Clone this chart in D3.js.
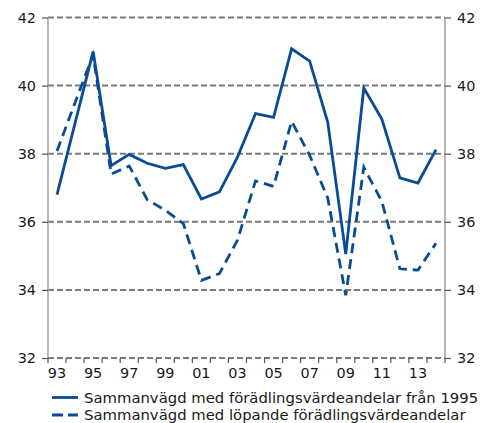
<!DOCTYPE html>
<html>
<head>
<meta charset="utf-8">
<script src="https://cdn.jsdelivr.net/npm/d3@7"></script>
<style>
  body { margin: 0; background: #fff; }
  svg { display: block; }
  text { font-family: "DejaVu Sans", Verdana, sans-serif; fill: #1a1a1a; }
</style>
</head>
<body>
<svg id="chart" width="494" height="423"></svg>
<script>
// data
var years = ["93","94","95","96","97","98","99","00","01","02","03","04","05","06","07","08","09","10","11","12","13","14"];
var fixedWeights = [36.8, 38.9, 41.0, 37.65, 37.98, 37.72, 37.57, 37.68, 36.67, 36.88, 37.9, 39.18, 39.07, 41.08, 40.72, 38.93, 35.05, 39.93, 39.02, 37.29, 37.14, 38.12];
var currentWeights = [38.08, 39.5, 40.9, 37.4, 37.64, 36.65, 36.34, 35.95, 34.28, 34.48, 35.46, 37.2, 37.04, 38.95, 37.95, 36.7, 33.84, 37.6, 36.6, 34.62, 34.58, 35.37];
var yTicks = [32, 34, 36, 38, 40, 42];
var xLabels = ["93","95","97","99","01","03","05","07","09","11","13"];
var legendLabels = ["Sammanvägd med förädlingsvärdeandelar från 1995",
                    "Sammanvägd med löpande förädlingsvärdeandelar"];

var blue = "#0a4b96";
var fontSize = "14.4px";
var svg = d3.select("#chart");

var plotLeft = 48, plotRight = 445, plotTop = 17.5, plotBottom = 358;

var x = d3.scaleBand().domain(years).range([plotLeft, plotRight]);
var y = d3.scaleLinear().domain([32, 42]).range([plotBottom, plotTop]);

// grid
svg.append("g").selectAll("line").data(yTicks).enter().append("line")
    .attr("x1", plotLeft).attr("x2", plotRight)
    .attr("y1", function(d) { return y(d); })
    .attr("y2", function(d) { return y(d); })
    .attr("stroke", "#7a7a7a")
    .attr("stroke-width", 2)
    .attr("stroke-dasharray", "6,3");

// axis lines
svg.append("line").attr("x1", plotLeft).attr("x2", plotLeft).attr("y1", plotTop).attr("y2", plotBottom)
    .attr("stroke", "#a0a0a0").attr("stroke-width", 1.5);
svg.append("line").attr("x1", plotRight).attr("x2", plotRight).attr("y1", plotTop).attr("y2", plotBottom)
    .attr("stroke", "#a0a0a0").attr("stroke-width", 1.5);

// y axes, left and right
var yLeft = svg.append("g").attr("transform", "translate(" + plotLeft + ",0)")
    .call(d3.axisLeft(y).tickValues(yTicks).tickSize(6).tickPadding(6));
var yRight = svg.append("g").attr("transform", "translate(" + plotRight + ",0)")
    .call(d3.axisRight(y).tickValues(yTicks).tickSize(6).tickPadding(6));
[yLeft, yRight].forEach(function(g) {
    g.select(".domain").remove();
    g.attr("font-family", null);
    g.selectAll(".tick line").attr("stroke", "#555").attr("stroke-width", 1.2);
    g.selectAll("text").style("font-size", fontSize).attr("fill", "#1a1a1a");
});

// x axis: ticks at band edges, labels at band centres
var edges = years.map(function(d) { return x(d); }).concat([plotRight]);
svg.append("g").selectAll("line").data(edges).enter().append("line")
    .attr("x1", function(d) { return d; }).attr("x2", function(d) { return d; })
    .attr("y1", plotBottom).attr("y2", plotBottom + 5)
    .attr("stroke", "#555").attr("stroke-width", 1.2);
svg.append("g").selectAll("text").data(xLabels).enter().append("text")
    .attr("x", function(d) { return x(d) + x.bandwidth() / 2; })
    .attr("y", plotBottom + 20)
    .attr("text-anchor", "middle")
    .style("font-size", fontSize)
    .text(function(d) { return d; });

// lines
var line = d3.line()
    .x(function(d, i) { return x(years[i]) + x.bandwidth() / 2; })
    .y(function(d) { return y(d); });

svg.append("path").datum(fixedWeights)
    .attr("d", line)
    .attr("fill", "none").attr("stroke", blue).attr("stroke-width", 2.8);
svg.append("path").datum(currentWeights)
    .attr("d", line)
    .attr("fill", "none").attr("stroke", blue).attr("stroke-width", 2.8)
    .attr("stroke-dasharray", "10,6");

// legend
var legend = svg.append("g");
var legendTexts = [];
legendLabels.forEach(function(label, i) {
    var ly = 397.5 + i * 17.5;
    legend.append("line")
        .attr("x1", 52).attr("x2", 78).attr("y1", ly).attr("y2", ly)
        .attr("stroke", blue).attr("stroke-width", 2.8)
        .attr("stroke-dasharray", i === 1 ? "11,5" : null);
    legendTexts.push(legend.append("text")
        .attr("x", 84).attr("y", ly + 5)
        .style("font-size", fontSize)
        .text(label));
});
// first legend row spans about 84 -> 478 in the reference
var w = legendTexts[0].node().getComputedTextLength();
var legendSize = 14.4 * 394 / w;
legendTexts.forEach(function(t) { t.style("font-size", legendSize + "px"); });
</script>
</body>
</html>
